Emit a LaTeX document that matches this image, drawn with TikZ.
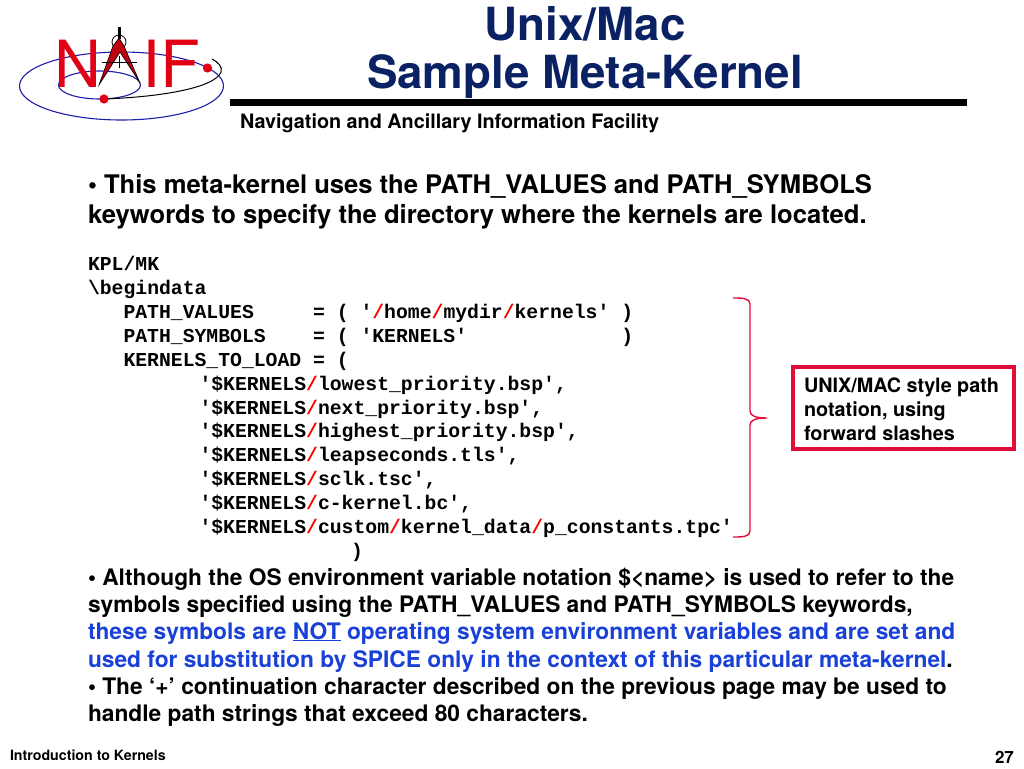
\documentclass[tikz,border=0pt]{standalone}
\usepackage{fontspec}
\setmainfont{TeX Gyre Heros}
\newfontfamily\codefont{Liberation Mono}[BoldFont={Liberation Mono Bold}]
\definecolor{navy}{RGB}{10,34,100}
\definecolor{nred}{RGB}{225,0,20}
\definecolor{cred}{RGB}{226,12,60}
\definecolor{nblue}{RGB}{25,65,215}
\definecolor{orbit}{RGB}{30,30,170}
\newcommand{\rs}{\textcolor{red}{/}}
\tikzset{
  line/.style={anchor=base west,inner sep=0pt,outer sep=0pt},
  titletext/.style={anchor=base,inner sep=0pt,font=\fontsize{45.7}{45.7}\selectfont\bfseries,text=navy},
  bodytext/.style={line,font=\fontsize{25.6}{25.6}\selectfont\bfseries},
  smalltext/.style={line,font=\fontsize{22.75}{22.75}\selectfont\bfseries},
  codetext/.style={line,font=\fontsize{19.75}{19.75}\selectfont\codefont\bfseries},
  notetext/.style={line,font=\fontsize{19.8}{19.8}\selectfont\bfseries},
  brace/.style={draw=cred,line width=1.4pt},
  logoorbit/.style={draw=orbit,line width=1.1pt}
}
\begin{document}
\begin{tikzpicture}[x=1pt,y=-1pt]
\useasboundingbox (0,0) rectangle (1024,768);
% logo
\draw[logoorbit] (121.5,86) ellipse (102 and 34);
\draw[logoorbit] (99.5,85) ellipse (41 and 14);
\draw[black,line width=1pt] (104,99) .. controls (160,97) and (215,88) .. (221,72) .. controls (223,67) and (218,62) .. (212,59);
\node[line,font=\fontsize{65}{65}\selectfont,text=nred] (logoN) at (54,87) {N};
\node[line,font=\fontsize{65}{65}\selectfont,text=nred] (logoIF) at (142,87) {IF};
\draw[black,line width=0.8pt] (119,42) circle (7);
\draw[black,line width=3pt] (119.5,27) -- (119.5,39);
\fill[nred!85!black,draw=black,line width=0.6pt] (119,38) -- (124,46) -- (140,83) -- (120,52) -- (99,85) -- (113,46) -- cycle;
\draw[black,line width=1.3pt] (102,62.5) -- (137,62.5);
\draw[black,line width=1.3pt] (119.5,56) -- (119.5,68);
\fill[nred] (104,99) circle (4.6);
\fill[nred] (207.5,68) circle (4.6);
% header
\node[titletext] (title1) at (585,41) {Unix/Mac};
\node[titletext] (title2) at (585,88) {Sample Meta-Kernel};
\fill[black] (230,99) rectangle (967,106);
\node[line,font=\fontsize{19.8}{19.8}\selectfont\bfseries] (nav) at (240,128.5) {Navigation and Ancillary Information Facility};
% intro
\node[bodytext] (b1) at (88,193) {• This meta-kernel uses the PATH\_VALUES and PATH\_SYMBOLS};
\node[bodytext] (b2) at (88,223) {keywords to specify the directory where the kernels are located.};
% code
\node[codetext] (c1) at (88,270) {KPL/MK};
\node[codetext] (c2) at (88,294) {\textbackslash begindata};
\node[codetext] (c3) at (123.5,318) {PATH\_VALUES~~~~~=~(~'\rs home\rs mydir\rs kernels'~)};
\node[codetext] (c4) at (123.5,342) {PATH\_SYMBOLS~~~~=~(~'KERNELS'~~~~~~~~~~~~~)};
\node[codetext] (c5) at (123.5,366) {KERNELS\_TO\_LOAD~=~(};
\node[codetext] (c6) at (199.5,390) {'\$KERNELS\rs lowest\_priority.bsp',};
\node[codetext] (c7) at (199.5,414) {'\$KERNELS\rs next\_priority.bsp',};
\node[codetext] (c8) at (199.5,437) {'\$KERNELS\rs highest\_priority.bsp',};
\node[codetext] (c9) at (199.5,461) {'\$KERNELS\rs leapseconds.tls',};
\node[codetext] (c10) at (199.5,485) {'\$KERNELS\rs sclk.tsc',};
\node[codetext] (c11) at (199.5,509) {'\$KERNELS\rs c-kernel.bc',};
\node[codetext] (c12) at (199.5,533) {'\$KERNELS\rs custom\rs kernel\_data\rs p\_constants.tpc'};
\node[codetext] (c13) at (351,557) {)};
% bracket
\draw[brace] (733,298) .. controls (742,298) and (750,298) .. (750,304) -- (750,411) .. controls (750,416) and (756,418) .. (767,418) .. controls (756,418) and (750,420) .. (750,425) -- (750,531) .. controls (750,537) and (742,537) .. (733,537);
% note
\node[draw=cred,line width=3.5pt,minimum width=221pt,minimum height=82pt,inner sep=0pt,outer sep=0pt,anchor=north west] (note) at (793,367) {};
\node[notetext] (n1) at (804,392) {UNIX/MAC style path};
\node[notetext] (n2) at (804,416) {notation, using};
\node[notetext] (n3) at (804,440) {forward slashes};
% lower text
\node[smalltext] (d1) at (88,585) {• Although the OS environment variable notation \$<name> is used to refer to the};
\node[smalltext] (d2) at (88,612) {symbols specified using the PATH\_VALUES and PATH\_SYMBOLS keywords,};
\node[smalltext,text=nblue] (d3) at (88,639) {these symbols are \underline{NOT} operating system environment variables and are set and};
\node[smalltext] (d4) at (88,667) {\textcolor{nblue}{used for substitution by SPICE only in the context of this particular meta-kernel}.};
\node[smalltext] (d5) at (88,694) {• The ‘+’ continuation character described on the previous page may be used to};
\node[smalltext] (d6) at (88,721) {handle path strings that exceed 80 characters.};
% footer
\node[line,font=\fontsize{14.2}{14.2}\selectfont\bfseries] (foot) at (10,760) {Introduction to Kernels};
\node[line,font=\fontsize{17}{17}\selectfont\bfseries] (page) at (995,763) {27};
\end{tikzpicture}
\end{document}
